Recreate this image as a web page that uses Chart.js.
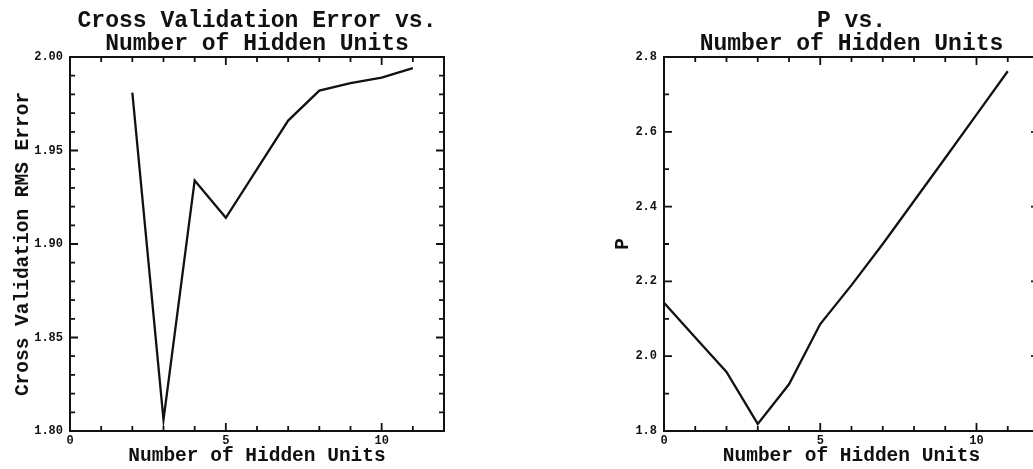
<!DOCTYPE html>
<html>
<head>
<meta charset="utf-8">
<script src="https://cdn.jsdelivr.net/npm/chart.js@4"></script>
<style>
  body { margin: 0; background: #fff; overflow: hidden; width: 1033px; height: 469px; }
  canvas { position: absolute; top: 0; }
  #cvChart { left: 0; }
  #pChart { left: 600px; }
</style>
</head>
<body>
<canvas id="cvChart" width="470" height="469"></canvas>
<canvas id="pChart" width="460" height="469"></canvas>
<script>
// left panel: cross validation error
const cvUnits = [2, 3, 4, 5, 6, 7, 8, 9, 10, 11]
const cvError = [1.981, 1.806, 1.934, 1.914, 1.940, 1.966, 1.982, 1.986, 1.989, 1.994]

// right panel: P
const pUnits = [0, 1, 2, 3, 4, 5, 6, 7, 8, 9, 10, 11]
const pValue = [2.143, 2.050, 1.958, 1.819, 1.925, 2.086, 2.190, 2.300, 2.415, 2.530, 2.646, 2.762]

const xTickLabels = [0, 5, 10]

const titleFont = 'Liberation Mono'
const ink = '#111'

// box + inward ticks on all four sides
const frameTicks = {
  id: 'frameTicks',
  afterDatasetsDraw(chart, args, opts) {
    const { ctx, chartArea: a } = chart
    const x = chart.scales.x, y = chart.scales.y
    ctx.save()
    ctx.strokeStyle = ink
    ctx.lineWidth = 2
    ctx.strokeRect(a.left, a.top, a.right - a.left, a.bottom - a.top)
    ctx.lineWidth = 1.8
    ctx.beginPath()
    const isMajor = (v, m) => Math.abs(v / m - Math.round(v / m)) < 1e-6
    let n = Math.round((x.max - x.min) / opts.xMinor)
    for (let i = 1; i < n; i++) {
      const v = x.min + i * opts.xMinor
      const px = x.getPixelForValue(v)
      const len = isMajor(v, opts.xMajor) ? 8 : 5
      ctx.moveTo(px, a.bottom); ctx.lineTo(px, a.bottom - len)
      ctx.moveTo(px, a.top); ctx.lineTo(px, a.top + len)
    }
    n = Math.round((y.max - y.min) / opts.yMinor)
    for (let i = 1; i < n; i++) {
      const v = y.min + i * opts.yMinor
      const py = y.getPixelForValue(v)
      const len = isMajor(v, opts.yMajor) ? 8 : 5
      ctx.moveTo(a.left, py); ctx.lineTo(a.left + len, py)
      ctx.moveTo(a.right, py); ctx.lineTo(a.right - len, py)
    }
    ctx.stroke()
    ctx.restore()
  }
}

function makeChart(id, units, values, cfg) {
  return new Chart(document.getElementById(id), {
    type: 'scatter',
    data: {
      datasets: [{
        data: units.map((u, i) => ({ x: u, y: values[i] })),
        showLine: true,
        borderColor: ink,
        borderWidth: 2.3,
        pointRadius: 0,
        tension: 0
      }]
    },
    options: {
      responsive: false,
      animation: false,
      devicePixelRatio: 1,
      layout: { padding: { right: cfg.padRight } },
      plugins: {
        legend: { display: false },
        tooltip: { enabled: false },
        title: {
          display: true,
          text: cfg.title,
          fullSize: false,
          color: ink,
          font: { family: titleFont, size: 23, weight: 'bold', lineHeight: 1 },
          padding: { top: 10, bottom: 1 }
        },
        frameTicks: cfg.ticks
      },
      scales: {
        x: {
          type: 'linear',
          min: 0,
          max: 12,
          afterBuildTicks: s => { s.ticks = xTickLabels.map(v => ({ value: v })) },
          afterFit: s => { s.height = 38 },
          grid: { display: false, drawTicks: false },
          border: { display: false },
          ticks: { padding: 3, color: ink, font: { family: titleFont, size: 12, weight: 'bold' } },
          title: {
            display: true,
            text: 'Number of Hidden Units',
            color: ink,
            font: { family: titleFont, size: 19.5, weight: 'bold' },
            padding: { top: 0, bottom: 1 }
          }
        },
        y: {
          min: cfg.yMin,
          max: cfg.yMax,
          afterFit: s => { s.width = cfg.yWidth },
          grid: { display: false, drawTicks: false },
          border: { display: false },
          ticks: {
            stepSize: cfg.ticks.yMajor,
            padding: 7,
            color: ink,
            font: { family: titleFont, size: 12, weight: 'bold' },
            callback: v => v.toFixed(cfg.decimals)
          },
          title: {
            display: true,
            text: cfg.yTitle,
            color: ink,
            font: { family: titleFont, size: 19.5, weight: 'bold' },
            padding: { top: cfg.yTitlePad, bottom: 0 }
          }
        }
      }
    },
    plugins: [frameTicks]
  })
}

makeChart('cvChart', cvUnits, cvError, {
  title: ['Cross Validation Error vs.', 'Number of Hidden Units'],
  yTitle: 'Cross Validation RMS Error',
  yMin: 1.8, yMax: 2.0, decimals: 2,
  yWidth: 70, yTitlePad: 11, padRight: 26,
  ticks: { xMinor: 1, xMajor: 5, yMinor: 0.01, yMajor: 0.05 }
})

makeChart('pChart', pUnits, pValue, {
  title: ['P vs.', 'Number of Hidden Units'],
  yTitle: 'P',
  yMin: 1.8, yMax: 2.8, decimals: 1,
  yWidth: 64, yTitlePad: 11, padRight: 21,
  ticks: { xMinor: 1, xMajor: 5, yMinor: 0.1, yMajor: 0.2 }
})
</script>
</body>
</html>
